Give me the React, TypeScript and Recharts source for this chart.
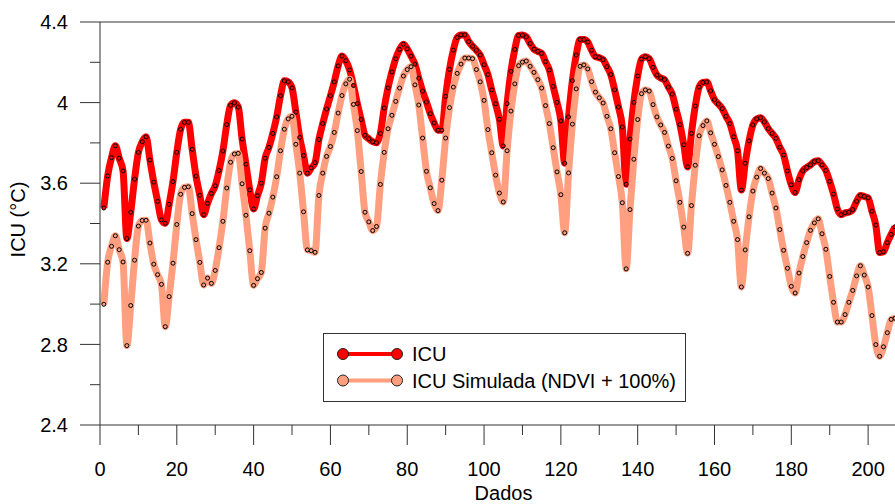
import { Legend, Line, LineChart, ReferenceLine, XAxis, YAxis } from "recharts";

// values, one point per "dado" starting at 1
const icu = [
  3.477, 3.636, 3.727, 3.786, 3.724, 3.661, 3.325, 3.456, 3.62, 3.753,
  3.806, 3.83, 3.715, 3.605, 3.51, 3.418, 3.401, 3.495, 3.608, 3.753,
  3.868, 3.902, 3.902, 3.768, 3.635, 3.54, 3.444, 3.5, 3.549, 3.587,
  3.663, 3.76, 3.891, 3.986, 3.999, 3.978, 3.819, 3.694, 3.567, 3.472,
  3.538, 3.6, 3.724, 3.778, 3.847, 3.929, 4.034, 4.108, 4.103, 4.073,
  3.953, 3.827, 3.737, 3.65, 3.676, 3.702, 3.817, 3.896, 3.968, 4.034,
  4.103, 4.182, 4.231, 4.208, 4.162, 4.085, 3.995, 3.916, 3.838, 3.82,
  3.806, 3.801, 3.847, 3.973, 4.073, 4.152, 4.218, 4.264, 4.29, 4.267,
  4.231, 4.191, 4.121, 4.057, 4.003, 3.945, 3.899, 3.863, 3.863, 4.031,
  4.165, 4.26, 4.323, 4.336, 4.336, 4.303, 4.28, 4.26, 4.236, 4.188,
  4.139, 4.063, 3.994, 3.917, 3.785, 3.995, 4.155, 4.264, 4.333, 4.335,
  4.326, 4.293, 4.265, 4.254, 4.244, 4.203, 4.162, 4.08, 4.001, 3.909,
  3.699, 3.929, 4.109, 4.236, 4.313, 4.313, 4.3, 4.26, 4.228, 4.223,
  4.213, 4.178, 4.139, 4.063, 3.978, 3.879, 3.595, 3.819, 4.001, 4.132,
  4.216, 4.228, 4.218, 4.175, 4.137, 4.122, 4.113, 4.077, 4.042, 3.967,
  3.891, 3.791, 3.681, 3.847, 3.983, 4.077, 4.1, 4.102, 4.058, 4.014,
  3.993, 3.97, 3.932, 3.896, 3.83, 3.761, 3.566, 3.699, 3.81, 3.889,
  3.919, 3.925, 3.904, 3.871, 3.847, 3.822, 3.778, 3.74, 3.661, 3.592,
  3.554, 3.617, 3.661, 3.678, 3.691, 3.707, 3.712, 3.691, 3.663, 3.609,
  3.546, 3.472, 3.444, 3.453, 3.456, 3.469, 3.51, 3.539, 3.534, 3.527,
  3.461, 3.392, 3.256, 3.26, 3.305, 3.346, 3.384,
];

const icuSimulada = [
  2.999, 3.208, 3.287, 3.339, 3.27, 3.209, 2.794, 2.993, 3.218, 3.387,
  3.415, 3.416, 3.303, 3.198, 3.146, 3.098, 2.888, 3.037, 3.203, 3.395,
  3.545, 3.579, 3.582, 3.449, 3.32, 3.207, 3.095, 3.129, 3.103, 3.167,
  3.28, 3.411, 3.576, 3.704, 3.745, 3.748, 3.597, 3.441, 3.265, 3.093,
  3.126, 3.157, 3.377, 3.451, 3.531, 3.632, 3.761, 3.868, 3.919, 3.932,
  3.793, 3.65, 3.458, 3.269, 3.265, 3.257, 3.539, 3.65, 3.733, 3.782,
  3.852, 3.948, 4.035, 4.093, 4.116, 3.991, 3.861, 3.658, 3.456, 3.408,
  3.365, 3.385, 3.594, 3.753, 3.87, 3.937, 4.006, 4.072, 4.132, 4.164,
  4.178, 4.088, 3.988, 3.824, 3.659, 3.577, 3.499, 3.464, 3.615, 3.824,
  3.975, 4.077, 4.145, 4.191, 4.221, 4.221, 4.218, 4.164, 4.103, 4.011,
  3.866, 3.751, 3.64, 3.551, 3.507, 3.761, 3.958, 4.093, 4.183, 4.201,
  4.206, 4.18, 4.15, 4.114, 4.072, 3.985, 3.896, 3.776, 3.656, 3.543,
  3.354, 3.651, 3.893, 4.068, 4.18, 4.187, 4.167, 4.104, 4.052, 4.024,
  3.998, 3.932, 3.87, 3.751, 3.633, 3.503, 3.175, 3.469, 3.719, 3.916,
  4.044, 4.063, 4.057, 3.99, 3.929, 3.889, 3.852, 3.784, 3.723, 3.612,
  3.505, 3.382, 3.252, 3.489, 3.689, 3.835, 3.886, 3.909, 3.85, 3.793,
  3.732, 3.666, 3.589, 3.505, 3.411, 3.32, 3.085, 3.269, 3.433, 3.561,
  3.63, 3.673, 3.65, 3.623, 3.551, 3.477, 3.37, 3.267, 3.178, 3.088,
  3.055, 3.154, 3.236, 3.305, 3.366, 3.403, 3.423, 3.349, 3.272, 3.137,
  3.009, 2.911, 2.911, 2.948, 3.009, 3.068, 3.14, 3.19, 3.144, 3.085,
  2.943, 2.799, 2.741, 2.788, 2.858, 2.924, 2.93,
];

const xTicks = [0, 10, 20, 30, 40, 50, 60, 70, 80, 90, 100, 110, 120, 130, 140, 150, 160, 170, 180, 190, 200];
const yTicks = [2.4, 2.6, 2.8, 3.0, 3.2, 3.4, 3.6, 3.8, 4.0, 4.2, 4.4];
const seriesNames = ["ICU", "ICU Simulada (NDVI + 100%)"];

const RED = "#ff0000";
const SALMON = "#ff9f7f";
const AXIS = "#333";
const FONT = "'Liberation Sans', Arial, sans-serif";

const data = icu.map((v, i) => ({ x: i + 1, icu: v, sim: icuSimulada[i] }));

function XTick({ x, y, payload }: any) {
  const major = payload.value % 20 === 0;
  return (
    <g>
      <line x1={x} x2={x} y1={y} y2={y + (major ? 20 : 10)} stroke={AXIS} />
      {major && (
        <text x={x} y={y + 51} textAnchor="middle" fontSize={20} fontFamily={FONT} fill="#000">
          {payload.value}
        </text>
      )}
    </g>
  );
}

function YTick({ x, y, payload }: any) {
  const major = Math.round(payload.value * 10) % 4 === 0;
  return (
    <g>
      <line x1={x - (major ? 20 : 10)} x2={x} y1={y} y2={y} stroke={AXIS} />
      {major && (
        <text x={x - 32} y={y} dy="0.36em" textAnchor="end" fontSize={20} fontFamily={FONT} fill="#000">
          {String(Number(payload.value.toFixed(1)))}
        </text>
      )}
    </g>
  );
}

function YLabel({ viewBox }: any) {
  const cx = viewBox.x + 18;
  const cy = viewBox.y + viewBox.height / 2 - 4;
  return (
    <text
      x={cx}
      y={cy}
      transform={`rotate(-90 ${cx} ${cy})`}
      textAnchor="middle"
      dominantBaseline="central"
      fontSize={20}
      fontFamily={FONT}
      fill="#000"
    >
      ICU (°C)
    </text>
  );
}

function XLabel({ viewBox }: any) {
  return (
    <text
      x={viewBox.x + viewBox.width / 2 + 6}
      y={viewBox.y + 75}
      textAnchor="middle"
      fontSize={20}
      fontFamily={FONT}
      fill="#000"
    >
      Dados
    </text>
  );
}

function LegendBox() {
  const colors = [RED, SALMON];
  return (
    <svg width={363} height={69} style={{ display: "block" }}>
      <rect x={0.5} y={0.5} width={362} height={68} fill="#fff" stroke={AXIS} />
      {seriesNames.map((name, i) => {
        const cy = 21 + i * 26.5;
        return (
          <g key={name}>
            <line x1={20} x2={74} y1={cy} y2={cy} stroke={colors[i]} strokeWidth={4} />
            <circle cx={20} cy={cy} r={5.5} fill={colors[i]} stroke="#222" strokeWidth={1} />
            <circle cx={74} cy={cy} r={5.5} fill={colors[i]} stroke="#222" strokeWidth={1} />
            <text x={89} y={cy} dy="0.36em" fontSize={20} fontFamily={FONT} fill="#000">
              {name}
            </text>
          </g>
        );
      })}
    </svg>
  );
}

export default function App() {
  return (
    <div style={{ position: "absolute", left: 0, top: 0, width: 895, height: 504, background: "#fff" }}>
      <LineChart width={895} height={504} data={data} margin={{ top: 22, right: 0, bottom: 0, left: 0 }}>
        <XAxis
          dataKey="x"
          type="number"
          domain={[0, 207]}
          ticks={xTicks}
          height={79}
          stroke={AXIS}
          tickSize={0}
          tickMargin={0}
          tick={<XTick />}
          label={<XLabel />}
        />
        <YAxis
          type="number"
          domain={[2.4, 4.4]}
          ticks={yTicks}
          width={100}
          stroke={AXIS}
          tickSize={0}
          tickMargin={0}
          tick={<YTick />}
          label={<YLabel />}
        />
        <ReferenceLine y={4.4} stroke={AXIS} />
        <Line
          type="monotone"
          dataKey="icu"
          name={seriesNames[0]}
          stroke={RED}
          strokeWidth={7}
          dot={{ r: 2, fill: RED, stroke: "#000", strokeWidth: 1 }}
          isAnimationActive={false}
        />
        <Line
          type="monotone"
          dataKey="sim"
          name={seriesNames[1]}
          stroke={SALMON}
          strokeWidth={7}
          dot={{ r: 2, fill: SALMON, stroke: "#000", strokeWidth: 1 }}
          isAnimationActive={false}
        />
        <Legend
          layout="horizontal"
          verticalAlign="middle"
          align="center"
          content={() => <LegendBox />}
          wrapperStyle={{ left: 323, top: 333, width: 363, height: 69 }}
        />
      </LineChart>
    </div>
  );
}
